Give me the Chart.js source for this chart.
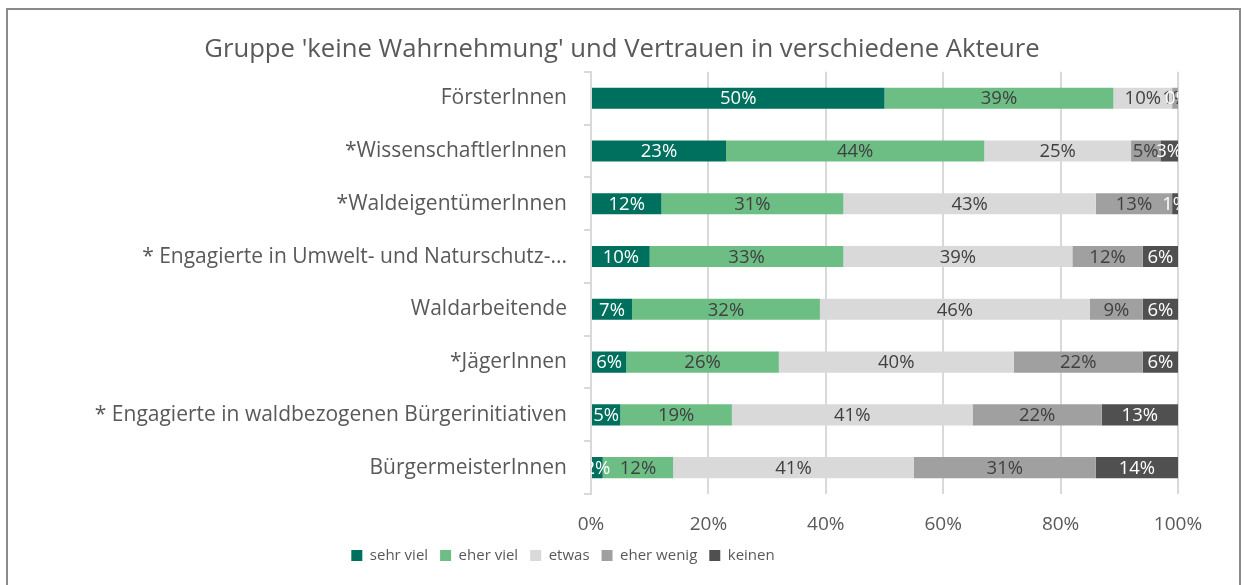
<!DOCTYPE html>
<html>
<head>
<meta charset="utf-8">
<title>Vertrauen in Akteure</title>
<script src="https://cdn.jsdelivr.net/npm/chart.js@4/dist/chart.umd.min.js"></script>
<style>
  html, body { margin: 0; padding: 0; background: #fff; }
  #wrap { position: relative; width: 1244px; height: 585px; }
  #frame {
    position: absolute; left: 6px; top: 8px; right: 3px; bottom: -5px;
    border: 2px solid #8a8a8a; border-bottom: none; pointer-events: none;
  }
  canvas { position: absolute; left: 0; top: 0; }
</style>
</head>
<body>
<div id="wrap">
  <canvas id="myChart" width="1244" height="585"></canvas>
  <div id="frame"></div>
</div>
<script>
var akteure = [
  'FörsterInnen',
  '*WissenschaftlerInnen',
  '*WaldeigentümerInnen',
  '* Engagierte in Umwelt- und Naturschutz-...',
  'Waldarbeitende',
  '*JägerInnen',
  '* Engagierte in waldbezogenen Bürgerinitiativen',
  'BürgermeisterInnen'
];
var sehrViel  = [50, 23, 12, 10,  7,  6,  5,  2];
var eherViel  = [39, 44, 31, 33, 32, 26, 19, 12];
var etwas     = [10, 25, 43, 39, 46, 40, 41, 41];
var eherWenig = [ 1,  5, 13, 12,  9, 22, 22, 31];
var keinen    = [ 0,  3,  1,  6,  6,  6, 13, 14];
var xTicks = [0, 20, 40, 60, 80, 100];

var textGrey = '#595959';
var font = "'Open Sans', sans-serif";

// value labels inside the bars, clipped to the plot area
var barLabels = {
  id: 'barLabels',
  afterDatasetsDraw: function(chart) {
    var ctx = chart.ctx, area = chart.chartArea;
    ctx.save();
    ctx.beginPath();
    ctx.rect(area.left, area.top, area.right - area.left, area.bottom - area.top);
    ctx.clip();
    ctx.font = '18.5px ' + font;
    ctx.textAlign = 'center';
    ctx.textBaseline = 'middle';
    chart.data.datasets.forEach(function(ds, i) {
      var meta = chart.getDatasetMeta(i);
      meta.data.forEach(function(bar, j) {
        ctx.fillStyle = ds.labelColor;
        ctx.fillText(ds.data[j] + '%', (bar.x + bar.base) / 2, bar.y + 1);
      });
    });
    ctx.restore();
  }
};

// fixed legend strip height, then nudge title and legend sideways
var boxTweaks = {
  id: 'boxTweaks',
  afterInit: function(chart) {
    var lg = chart.legend;
    var fit = lg.fit;
    lg.fit = function() {
      fit.apply(this, arguments);
      this.height = 49;
    };
  },
  afterLayout: function(chart) {
    chart.titleBlock.left += 28;
    chart.titleBlock.right += 28;
    chart.legend.left -= 31;
    chart.legend.right -= 31;
  }
};

var ctx = document.getElementById('myChart').getContext('2d');
var chart = new Chart(ctx, {
  type: 'bar',
  data: {
    labels: akteure,
    datasets: [
      { label: 'sehr viel',  data: sehrViel,  backgroundColor: '#00705e', labelColor: '#ffffff' },
      { label: 'eher viel',  data: eherViel,  backgroundColor: '#6dbe85', labelColor: '#404040' },
      { label: 'etwas',      data: etwas,     backgroundColor: '#d9d9d9', labelColor: '#404040' },
      { label: 'eher wenig', data: eherWenig, backgroundColor: '#a0a0a0', labelColor: '#404040' },
      { label: 'keinen',     data: keinen,    backgroundColor: '#505050', labelColor: '#ffffff' }
    ]
  },
  options: {
    indexAxis: 'y',
    responsive: false,
    animation: false,
    categoryPercentage: 0.8,
    barPercentage: 0.5,
    layout: { padding: { left: 10, right: 66, top: 0, bottom: 0 } },
    scales: {
      x: {
        stacked: true,
        min: 0, max: 100,
        afterBuildTicks: function(scale) {
          scale.ticks = xTicks.map(function(v) { return { value: v }; });
        },
        afterFit: function(scale) { scale.height = 42; },
        ticks: {
          color: textGrey, padding: 19.5,
          font: { family: font, size: 19 },
          callback: function(v) { return v + '%'; }
        },
        grid: { color: '#d9d9d9', lineWidth: 2, drawTicks: false },
        border: { display: false }
      },
      y: {
        stacked: true,
        afterFit: function(scale) { scale.width = 581; },
        ticks: { color: textGrey, padding: 17, font: { family: font, size: 21 } },
        grid: { drawOnChartArea: false, color: '#d9d9d9', tickLength: 7, lineWidth: 2 },
        border: { display: true, color: '#d9d9d9', width: 2 }
      }
    },
    plugins: {
      title: {
        display: true,
        text: "Gruppe 'keine Wahrnehmung' und Vertrauen in verschiedene Akteure",
        color: textGrey,
        font: { family: font, size: 25.7, weight: 'normal' },
        padding: { top: 34, bottom: 7 }
      },
      legend: {
        position: 'bottom',
        labels: {
          color: textGrey, boxWidth: 11, boxHeight: 11, padding: 12,
          font: { family: font, size: 15 }
        }
      },
      tooltip: { enabled: false }
    }
  },
  plugins: [barLabels, boxTweaks]
});
</script>
</body>
</html>
